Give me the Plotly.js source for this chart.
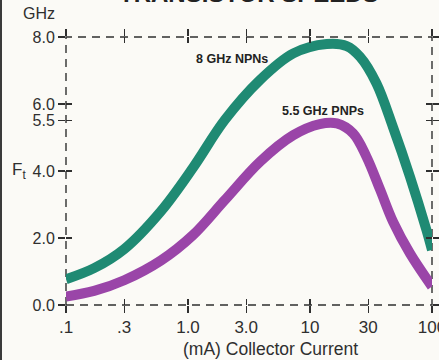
<!DOCTYPE html>
<html>
<head>
<meta charset="utf-8">
<script src="https://cdn.plot.ly/plotly-3.0.1.min.js"></script>
<style>
html,body{margin:0;padding:0;background:#fbfaf6;}
#wrap{position:relative;width:439px;height:360px;}
#chart{width:439px;height:360px;}
#edge{position:absolute;left:0;top:0;width:2px;height:360px;background:#3a3a3a;}
</style>
</head>
<body>
<div id="wrap"><div id="chart"></div><div id="edge"></div></div>
<script>
const npnCurrent = [0.1, 0.17, 0.3, 0.6, 1.1, 2, 3.9, 7.3, 13.7, 20, 25.7, 35, 48, 66, 90, 100];
const npnGHz     = [0.77, 1.10, 1.67, 2.80, 4.10, 5.52, 6.72, 7.51, 7.79, 7.73, 7.41, 6.62, 5.30, 3.83, 2.24, 1.64];
const pnpCurrent = [0.1, 0.17, 0.3, 0.6, 1.1, 2, 3.9, 7.3, 12, 16.6, 22.6, 29, 37.5, 48, 66, 100];
const pnpGHz     = [0.25, 0.42, 0.74, 1.33, 2.09, 3.13, 4.28, 5.07, 5.40, 5.42, 5.12, 4.43, 3.45, 2.48, 1.54, 0.55];
const xTickVals = [0.1, 0.3, 1, 3, 10, 30, 100];
const xTickText = ['.1', '.3', '1.0', '3.0', '10', '30', '100'];
const yTickVals = [0, 2, 4, 5.5, 6, 8];
const yTickText = ['0.0', '2.0', '4.0', '5.5', '6.0', '8.0'];
const seriesNames = ['8 GHz NPNs', '5.5 GHz PNPs'];

const FONT = 'Liberation Sans, Arial, sans-serif';
const INK = '#2f2f2f';

const traces = [
  {x: npnCurrent, y: npnGHz, name: seriesNames[0], type: 'scatter', mode: 'lines',
   line: {color: '#1f8a73', width: 10, shape: 'spline', smoothing: 1}, xaxis: 'x', yaxis: 'y'},
  {x: pnpCurrent, y: pnpGHz, name: seriesNames[1], type: 'scatter', mode: 'lines',
   line: {color: '#9a45a8', width: 10, shape: 'spline', smoothing: 1}, xaxis: 'x2', yaxis: 'y2'}
];

const axCommon = {showgrid: false, zeroline: false, showline: false, tickcolor: INK, tickwidth: 1.3, ticklen: 7};

const layout = {
  width: 439, height: 360,
  margin: {l: 66, r: 7, t: 37, b: 55},
  paper_bgcolor: '#fbfaf6', plot_bgcolor: 'rgba(0,0,0,0)',
  showlegend: false,
  font: {family: FONT, color: INK, size: 16},
  xaxis: Object.assign({}, axCommon, {
    type: 'log', range: [-1, 2], tickmode: 'array', tickvals: xTickVals, ticktext: xTickText,
    ticks: 'outside', mirror: 'ticks', ticklabeloverflow: 'allow',
    tickfont: {family: FONT, size: 17, color: INK}
  }),
  yaxis: Object.assign({}, axCommon, {
    range: [0, 8], tickmode: 'array', tickvals: yTickVals, ticktext: yTickText,
    ticks: 'outside', mirror: 'ticks', tickfont: {family: FONT, size: 16, color: INK}
  }),
  xaxis2: Object.assign({}, axCommon, {
    type: 'log', overlaying: 'x', matches: 'x', anchor: 'y', range: [-1, 2],
    tickmode: 'array', tickvals: xTickVals, ticks: 'inside', mirror: 'ticks', showticklabels: false, ticklen: 6
  }),
  yaxis2: Object.assign({}, axCommon, {
    overlaying: 'y', matches: 'y', anchor: 'x', range: [0, 8],
    tickmode: 'array', tickvals: yTickVals, ticks: 'inside', mirror: 'ticks', showticklabels: false, ticklen: 6
  }),
  shapes: [
    {type: 'rect', xref: 'paper', yref: 'paper', x0: 0, x1: 1, y0: 0, y1: 1,
     line: {color: INK, width: 1.4, dash: '8px,6px'}, layer: 'below'}
  ],
  annotations: [
    {text: 'TRANSISTOR SPEEDS', xref: 'paper', yref: 'paper', x: 0.5, y: 1, yshift: 28,
     xanchor: 'center', yanchor: 'bottom', showarrow: false,
     font: {family: FONT, size: 24, color: '#222', weight: 'bold'}},
    {text: 'GHz', xref: 'paper', yref: 'paper', x: 0, y: 1, xshift: -9, yshift: 13,
     xanchor: 'right', yanchor: 'bottom', showarrow: false, font: {family: FONT, size: 16, color: INK}},
    {text: 'F<sub>t</sub>', xref: 'paper', yref: 'paper', x: 0, y: 0.5, xshift: -38,
     xanchor: 'right', yanchor: 'middle', showarrow: false, font: {family: FONT, size: 17, color: INK}},
    {text: '(mA) Collector Current', xref: 'paper', yref: 'paper', x: 0.56, y: 0, yshift: -32,
     xanchor: 'center', yanchor: 'top', showarrow: false, font: {family: FONT, size: 17.5, color: INK}},
    {text: '<b>' + seriesNames[0] + '</b>', xref: 'x', yref: 'y', x: 0.36, y: 7.34,
     xanchor: 'center', yanchor: 'middle', showarrow: false, font: {family: FONT, size: 12.5, color: '#222'}},
    {text: '<b>' + seriesNames[1] + '</b>', xref: 'x', yref: 'y', x: 1.107, y: 5.79,
     xanchor: 'center', yanchor: 'middle', showarrow: false, font: {family: FONT, size: 12.5, color: '#222'}}
  ]
};

Plotly.newPlot('chart', traces, layout, {displayModeBar: false, staticPlot: true});
</script>
</body>
</html>
